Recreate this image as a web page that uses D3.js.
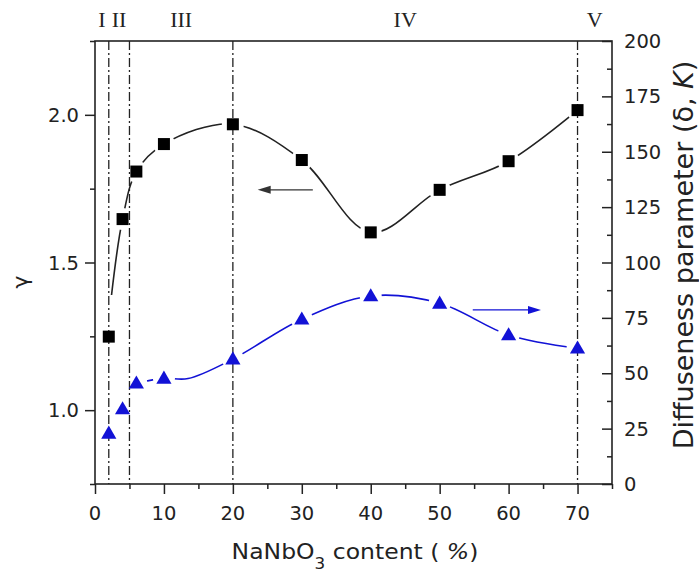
<!DOCTYPE html>
<html>
<head>
<meta charset="utf-8">
<script src="https://cdn.jsdelivr.net/npm/d3@7/dist/d3.min.js"></script>
<style>
  body { margin: 0; background: #fff; }
  svg { display: block; font-family: "DejaVu Sans", sans-serif; }
</style>
</head>
<body>
<svg id="chart" width="699" height="574"></svg>
<script>
// NaNbO3 content (%)
const content = [2, 4, 6, 10, 20, 30, 40, 50, 60, 70];
// gamma (left axis)
const gamma = [1.249, 1.647, 1.808, 1.901, 1.968, 1.847, 1.602, 1.746, 1.843, 2.016];
// diffuseness parameter delta, K (right axis)
const delta = [22.9, 33.9, 45.5, 47.7, 56.4, 74.4, 84.9, 81.6, 67.3, 61.3];

// smoothed fit curves
const gammaFitX = [2.4, 4, 6, 10, 20, 30, 40, 50, 60, 70];
const gammaFitY = [1.39, 1.647, 1.808, 1.901, 1.968, 1.847, 1.602, 1.746, 1.843, 2.016];
const deltaFitX = [6, 10, 13.5, 20, 30, 40, 50, 60, 70];
const deltaFitY = [45.5, 47.7, 47.6, 56.4, 74.4, 84.9, 81.6, 67.3, 61.3];

// region boundaries and labels
const bounds = [0, 2, 5, 20, 70, 75];
const regions = ['I', 'II', 'III', 'IV', 'V'];

const xTicks = [0, 10, 20, 30, 40, 50, 60, 70];
const gammaTicks = [1.0, 1.5, 2.0];
const deltaTicks = [0, 25, 50, 75, 100, 125, 150, 175, 200];

const margin = { top: 41, right: 87, bottom: 90, left: 95 };
const width = 699, height = 574;
const svg = d3.select('#chart');

const x = d3.scaleLinear().domain([0, 75]).range([margin.left, width - margin.right]);
const yL = d3.scaleLinear().domain([0.75, 2.25]).range([height - margin.bottom, margin.top]);
const yR = d3.scaleLinear().domain([0, 200]).range([height - margin.bottom, margin.top]);

const ink = '#222';
const blue = '#1212d6';

// axes
const fontSize = 19.5;
const bottomAxis = svg.append('g')
  .attr('transform', `translate(0,${yL.range()[0]})`)
  .call(d3.axisBottom(x).tickValues(d3.range(0, 76, 5)).tickSize(5).tickFormat(''));
bottomAxis.selectAll('.tick line').filter((d) => d % 10 === 0).attr('y2', 10);

const leftAxis = svg.append('g')
  .attr('transform', `translate(${margin.left},0)`)
  .call(d3.axisLeft(yL).tickValues(d3.range(0.75, 2.26, 0.25)).tickSize(5).tickFormat(''));
leftAxis.selectAll('.tick line').filter((d) => Math.abs(d * 2 - Math.round(d * 2)) < 1e-6).attr('x2', -10);

const rightAxis = svg.append('g')
  .attr('transform', `translate(${x.range()[1]},0)`)
  .call(d3.axisLeft(yR).tickValues(d3.range(0, 201, 12.5)).tickSize(5).tickFormat(''));
rightAxis.selectAll('.tick line').filter((d) => d % 25 === 0).attr('x2', -10);

[bottomAxis, leftAxis, rightAxis].forEach((a) => {
  a.select('.domain').remove();
  a.selectAll('.tick line').attr('stroke', ink).attr('stroke-width', 1.5);
});

// frame
svg.append('rect')
  .attr('x', x.range()[0]).attr('y', margin.top)
  .attr('width', x.range()[1] - x.range()[0])
  .attr('height', yL.range()[0] - margin.top)
  .attr('fill', 'none').attr('stroke', ink).attr('stroke-width', 1.6);

// tick labels
svg.append('g').selectAll('text').data(xTicks).join('text')
  .attr('x', (d) => x(d)).attr('y', yL.range()[0] + 36)
  .attr('text-anchor', 'middle').attr('font-size', fontSize).attr('fill', ink)
  .text((d) => d);
svg.append('g').selectAll('text').data(gammaTicks).join('text')
  .attr('x', margin.left - 16).attr('y', (d) => yL(d) + 7)
  .attr('text-anchor', 'end').attr('font-size', fontSize).attr('fill', ink)
  .text((d) => d.toFixed(1));
svg.append('g').selectAll('text').data(deltaTicks).join('text')
  .attr('x', x.range()[1] + 12).attr('y', (d) => yR(d) + 7)
  .attr('text-anchor', 'start').attr('font-size', fontSize).attr('fill', ink)
  .text((d) => d);

// region separators
svg.append('g').selectAll('line').data(bounds.slice(1, -1)).join('line')
  .attr('x1', (d) => x(d)).attr('x2', (d) => x(d))
  .attr('y1', margin.top).attr('y2', yL.range()[0])
  .attr('stroke', ink).attr('stroke-width', 1.3)
  .attr('stroke-dasharray', '9,3,2,3');

svg.append('g').selectAll('text').data(regions).join('text')
  .attr('x', (d, i) => x((bounds[i] + bounds[i + 1]) / 2))
  .attr('y', 27)
  .attr('text-anchor', 'middle')
  .attr('font-family', '"Liberation Serif", "Times New Roman", serif')
  .attr('font-size', 22).attr('fill', ink)
  .text((d) => d);

// gap masks so the curves stop short of the symbols
const defs = svg.append('defs');
const makeMask = (id, ys) => {
  const m = defs.append('mask').attr('id', id).attr('maskUnits', 'userSpaceOnUse')
    .attr('x', 0).attr('y', 0).attr('width', width).attr('height', height);
  m.append('rect').attr('width', width).attr('height', height).attr('fill', '#fff');
  m.selectAll('circle').data(content).join('circle')
    .attr('cx', (d) => x(d)).attr('cy', (d, i) => ys[i]).attr('r', 11).attr('fill', '#000');
};
makeMask('gapGamma', gamma.map((v) => yL(v)));
makeMask('gapDelta', delta.map((v) => yR(v)));

const line = d3.line().curve(d3.curveCatmullRom.alpha(0.5));

svg.append('path')
  .attr('d', line(gammaFitX.map((v, i) => [x(v), yL(gammaFitY[i])])))
  .attr('fill', 'none').attr('stroke', ink).attr('stroke-width', 1.6)
  .attr('mask', 'url(#gapGamma)');

svg.append('path')
  .attr('d', line(deltaFitX.map((v, i) => [x(v), yR(deltaFitY[i])])))
  .attr('fill', 'none').attr('stroke', blue).attr('stroke-width', 1.6)
  .attr('mask', 'url(#gapDelta)');

// symbols
svg.append('g').selectAll('rect').data(content).join('rect')
  .attr('x', (d) => x(d) - 6).attr('y', (d, i) => yL(gamma[i]) - 6)
  .attr('width', 12).attr('height', 12).attr('fill', '#000');

const tri = d3.symbol().type(d3.symbolTriangle).size(100);
svg.append('g').selectAll('path').data(content).join('path')
  .attr('transform', (d, i) => `translate(${x(d)},${yR(delta[i]) + 1})`)
  .attr('d', tri).attr('fill', blue);

// arrows pointing at each series' axis
const arrow = (x1, x2, y, color) => {
  const dir = Math.sign(x2 - x1);
  svg.append('line')
    .attr('x1', x1).attr('x2', x2 - dir * 10).attr('y1', y).attr('y2', y)
    .attr('stroke', color).attr('stroke-width', 1.4);
  svg.append('path')
    .attr('d', `M${x2},${y}L${x2 - dir * 13},${y - 4}L${x2 - dir * 13},${y + 4}Z`)
    .attr('fill', color);
};
arrow(x(31.6), x(23.6), yL(1.746), '#333');
arrow(x(54.8), x(64.7), yR(78.6), blue);

// axis titles
const xLabel = svg.append('text')
  .attr('transform', 'translate(355,559) scale(1.12,1)')
  .attr('text-anchor', 'middle').attr('font-size', 21).attr('fill', ink);
xLabel.append('tspan').text('NaNbO');
xLabel.append('tspan').attr('font-size', 15).attr('dy', 10).text('3');
xLabel.append('tspan').attr('dy', -10).text(' content ( ');
xLabel.append('tspan').attr('font-style', 'italic').text('%');
xLabel.append('tspan').text(')');

svg.append('text')
  .attr('transform', 'translate(27.5,282) rotate(-90)')
  .attr('text-anchor', 'middle').attr('font-size', 22).attr('fill', ink)
  .text('γ');

const rLabel = svg.append('text')
  .attr('transform', 'translate(693,255) rotate(-90)')
  .attr('text-anchor', 'middle').attr('font-size', 27).attr('fill', ink);
rLabel.append('tspan').text('Diffuseness parameter (δ, ');
rLabel.append('tspan').attr('font-style', 'italic').text('K');
rLabel.append('tspan').text(')');
</script>
</body>
</html>
